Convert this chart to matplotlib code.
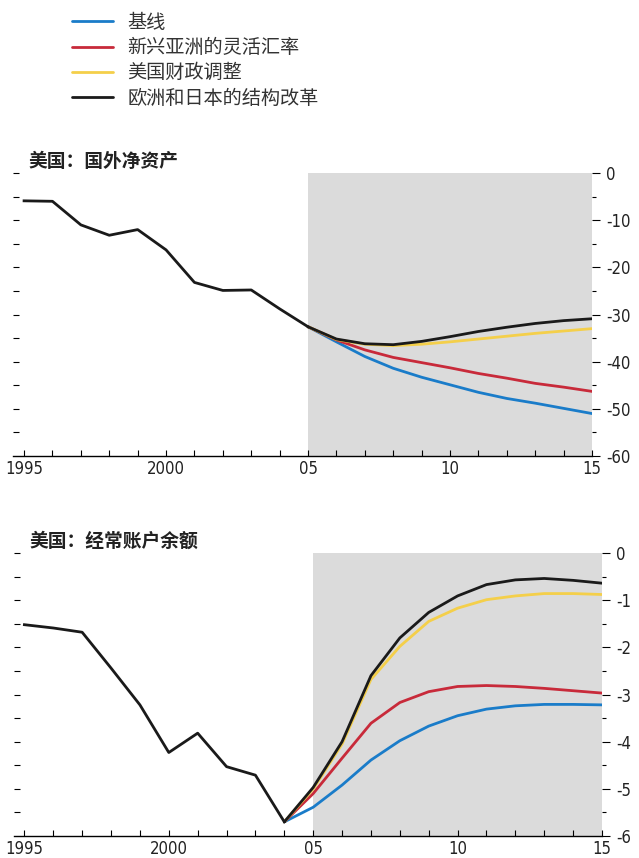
import matplotlib
matplotlib.use("Agg")
import matplotlib.pyplot as plt
import numpy as np

plt.rcParams['font.family'] = ['Noto Sans CJK SC', 'DejaVu Sans']

# series names (legend)
labels = ['基线', '新兴亚洲的灵活汇率', '美国财政调整', '欧洲和日本的结构改革']
colors = ['#1a7cc9', '#c82a3a', '#f4cf4a', '#1a1a1a']

# top panel: US net foreign assets
nfa_hist_years = list(range(1995, 2006))
nfa_hist = [-5.9, -6.0, -11.0, -13.2, -12.0, -16.3, -23.2, -24.9, -24.8, -28.8, -32.6]
nfa_proj_years = list(range(2005, 2016))
nfa_base = [-32.6, -35.8, -38.9, -41.4, -43.3, -44.9, -46.5, -47.8, -48.8, -49.9, -51.0]
nfa_asia = [-32.6, -35.4, -37.5, -39.1, -40.2, -41.3, -42.5, -43.5, -44.6, -45.4, -46.3]
nfa_fiscal = [-32.6, -35.3, -36.3, -36.6, -36.3, -35.8, -35.2, -34.6, -34.0, -33.5, -33.0]
nfa_struct = [-32.6, -35.2, -36.2, -36.4, -35.7, -34.7, -33.6, -32.7, -31.9, -31.3, -30.9]

# bottom panel: US current account balance
ca_hist_years = list(range(1995, 2005))
ca_hist = [-1.52, -1.59, -1.68, -2.44, -3.22, -4.23, -3.82, -4.53, -4.71, -5.70]
ca_proj_years = list(range(2004, 2016))
ca_base = [-5.70, -5.39, -4.92, -4.39, -3.98, -3.67, -3.45, -3.31, -3.24, -3.21, -3.21, -3.22]
ca_asia = [-5.70, -5.10, -4.35, -3.61, -3.17, -2.94, -2.83, -2.81, -2.83, -2.87, -2.92, -2.97]
ca_fiscal = [-5.70, -5.00, -4.05, -2.68, -1.98, -1.45, -1.17, -0.99, -0.91, -0.86, -0.86, -0.88]
ca_struct = [-5.70, -4.97, -4.00, -2.60, -1.80, -1.26, -0.91, -0.67, -0.57, -0.54, -0.58, -0.64]

x_labels = {1995: '1995', 2000: '2000', 2005: '05', 2010: '10', 2015: '15'}
num_font = dict(fontfamily='DejaVu Sans', fontstretch='condensed', fontsize=12, color='#222222')


def draw_panel(ax, title, hist_years, hist, proj_years, proj, ylim, step, label_step, x0):
    ax.axvspan(2005, 2015, ymin=0, ymax=1, color='#dbdbdb', lw=0, zorder=0)
    lines = []
    for vals, c in zip(proj, colors):
        ln, = ax.plot(proj_years, vals, color=c, lw=2.0, zorder=2, solid_capstyle='round')
        lines.append(ln)
    ax.plot(hist_years, hist, color=colors[3], lw=2.0, zorder=3)

    ax.set_xlim(x0, 2015)
    ax.set_ylim(*ylim)
    for s in ['top', 'left', 'right']:
        ax.spines[s].set_visible(False)
    ax.spines['bottom'].set_linewidth(1.0)

    years = list(range(1995, 2016))
    ax.set_xticks(years)
    ax.set_xticklabels([x_labels.get(y, '') for y in years], **num_font)
    ax.tick_params(axis='x', direction='in', length=4, width=0.8, pad=3)

    major = np.arange(ylim[0], ylim[1] + label_step / 2, label_step)
    minor = np.arange(ylim[0], ylim[1] + step / 2, step)
    ax.yaxis.tick_right()
    ax.set_yticks(major)
    ax.set_yticks(minor, minor=True)
    ax.set_yticklabels(['%g' % v for v in major], **num_font)
    ax.tick_params(axis='y', which='major', direction='out', length=6, width=0.8, pad=4)
    ax.tick_params(axis='y', which='minor', direction='out', length=3, width=0.8)

    sec = ax.secondary_yaxis('left')
    sec.set_yticks(minor[1:])
    sec.tick_params(direction='in', length=4, width=0.8, labelleft=False)
    sec.spines['left'].set_visible(False)

    ax.text(0.026, 1.008, title, transform=ax.transAxes, fontsize=13.5, fontweight='bold',
            color='#222222', ha='left', va='bottom')
    return lines


fig = plt.figure(figsize=(6.39, 8.58), dpi=100)
ax1 = fig.add_axes([13 / 639, 402 / 858, 579 / 639, 283 / 858])
ax2 = fig.add_axes([14 / 639, 22 / 858, 588 / 639, 283 / 858])

lines = draw_panel(ax1, '美国：国外净资产', nfa_hist_years, nfa_hist, nfa_proj_years,
                   [nfa_base, nfa_asia, nfa_fiscal, nfa_struct], (-60, 0), 5, 10, 1994.61)
draw_panel(ax2, '美国：经常账户余额', ca_hist_years, ca_hist, ca_proj_years,
           [ca_base, ca_asia, ca_fiscal, ca_struct], (-6, 0), 0.5, 1, 1994.64)

leg = fig.legend(lines, labels, loc='upper left', bbox_to_anchor=(72 / 639, 1 - 12 / 858),
                 frameon=False, fontsize=13.8, handlelength=2.15, handletextpad=0.73,
                 labelspacing=0.22, borderpad=0, borderaxespad=0)
for t in leg.get_texts():
    t.set_color('#333333')

fig.savefig('out.png', dpi=100)
